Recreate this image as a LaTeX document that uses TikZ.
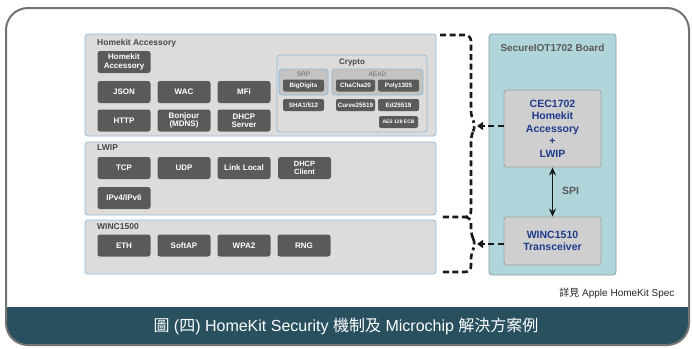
\documentclass[tikz,border=0pt]{standalone}
\usepackage{fontspec}
\setmainfont{Liberation Sans}
\newfontfamily\cjk{Noto Sans CJK TC}
\usetikzlibrary{arrows.meta}
\definecolor{pnl}{HTML}{DEDCDB}
\definecolor{pnledge}{HTML}{8DBCDD}
\definecolor{chp}{HTML}{5A5B58}
\definecolor{subp}{HTML}{C4C3C1}
\definecolor{titl}{HTML}{474747}
\definecolor{brd}{HTML}{B0D5DA}
\definecolor{brdedge}{HTML}{8E9FA2}
\definecolor{prt}{HTML}{CFCFCF}
\definecolor{prtedge}{HTML}{A3A3A3}
\definecolor{bluex}{HTML}{1E3A8C}
\definecolor{band}{HTML}{28505F}
\colorlet{framex}{black!55}
\tikzset{
    panel/.style={draw=pnledge,fill=pnl,rounded corners=3pt,line width=0.8pt,inner sep=0pt},
    ptitle/.style={anchor=west,text=titl,inner sep=0pt,font=\fontsize{8.5}{10}\selectfont\bfseries},
    chip/.style={fill=chp,text=white,rounded corners=2.5pt,minimum width=53pt,minimum height=22pt,
        inner sep=0pt,align=center,font=\fontsize{8}{8.5}\selectfont\bfseries},
    minichip/.style={chip,minimum width=41pt,minimum height=12pt,rounded corners=2pt,
        font=\fontsize{6.3}{7}\selectfont\bfseries},
    subpanel/.style={panel,fill=subp,minimum height=26pt},
    sublabel/.style={text=black!60,inner sep=0pt,font=\fontsize{6.5}{7}\selectfont},
    part/.style={draw=prtedge,fill=prt,rounded corners=3pt,line width=0.8pt,minimum width=97pt,
        inner sep=0pt,align=center,text=bluex,font=\fontsize{10.5}{12.5}\selectfont\bfseries},
    brace/.style={draw=black!90,line width=2.6pt,dash pattern=on 6pt off 3.5pt,rounded corners=6pt},
    dlink/.style={black!90,line width=2.6pt,dash pattern=on 6pt off 3.5pt,-{Triangle[length=6pt,width=8pt]}},
    spi/.style={black!90,line width=1.3pt,{Stealth[length=8pt,width=7pt]}-{Stealth[length=8pt,width=7pt]}}
}
\begin{document}
\begin{tikzpicture}[x=1pt,y=-1pt]
    \useasboundingbox (0,0) rectangle (692,348);
    % outer frame and caption band
    \fill[white,rounded corners=22pt] (6,8) rectangle (689,345);
    \fill[band] (6,307) -- (689,307) [rounded corners=20pt] -- (689,345) -- (6,345) [sharp corners] -- cycle;
    \draw[framex,line width=2pt,rounded corners=22pt] (6,8) rectangle (689,345);

    % Homekit Accessory
    \node[panel,minimum width=351pt,minimum height=102pt] (hka) at (260.5,85) {};
    \node[ptitle] (hkat) at (97,43) {Homekit Accessory};
    \node[chip] (kacc) at (124,62) {Homekit\\Accessory};
    \node[chip] (json) at (124,92) {JSON};
    \node[chip] (wac) at (184,92) {WAC};
    \node[chip] (mfi) at (244,92) {MFi};
    \node[chip] (http) at (124,120.5) {HTTP};
    \node[chip] (bonj) at (184,120.5) {Bonjour\\(MDNS)};
    \node[chip] (dhcps) at (244,120.5) {DHCP\\Server};

    % Crypto
    \node[panel,minimum width=150pt,minimum height=77pt] (crypto) at (352,93.5) {};
    \node[ptitle,anchor=center,font=\fontsize{8}{9}\selectfont\bfseries] (cryptot) at (352,63) {Crypto};
    \node[subpanel,minimum width=49pt] (srp) at (303.5,82) {};
    \node[subpanel,minimum width=91pt] (aead) at (377.5,82) {};
    \node[sublabel] (srpt) at (303.5,74.5) {SRP};
    \node[sublabel] (aeadt) at (377.5,74.5) {AEAD};
    \node[minichip] (bigd) at (303.5,85.5) {BigDigits};
    \node[minichip,minimum width=39pt] (chacha) at (355.5,85.5) {ChaCha20};
    \node[minichip] (poly) at (398.5,85.5) {Poly1305};
    \node[minichip] (sha) at (303.5,105) {SHA1/512};
    \node[minichip,minimum width=39pt] (curve) at (355.5,105) {Curve25519};
    \node[minichip] (ed) at (398.5,105) {Ed25519};
    \node[minichip,minimum width=39pt,font=\fontsize{5}{6}\selectfont\bfseries] (aes) at (398.5,122) {AES 128 ECB};

    % LWIP
    \node[panel,minimum width=351pt,minimum height=73pt] (lwip) at (260.5,178.5) {};
    \node[ptitle] (lwipt) at (97,148) {LWIP};
    \node[chip] (tcp) at (124,168) {TCP};
    \node[chip] (udp) at (184,168) {UDP};
    \node[chip] (llocal) at (244,168) {Link Local};
    \node[chip,font=\fontsize{7.5}{8}\selectfont\bfseries] (dhcpc) at (304.5,168) {DHCP\\Client};
    \node[chip] (ipv) at (124,198) {IPv4/IPv6};

    % WINC1500
    \node[panel,minimum width=351pt,minimum height=54pt] (winc) at (260.5,247) {};
    \node[ptitle] (winct) at (97,227) {WINC1500};
    \node[chip] (eth) at (124,245.5) {ETH};
    \node[chip] (softap) at (184,245.5) {SoftAP};
    \node[chip] (wpa) at (244,245.5) {WPA2};
    \node[chip] (rng) at (304,245.5) {RNG};

    % board
    \node[draw=brdedge,fill=brd,rounded corners=3pt,line width=0.8pt,minimum width=127pt,minimum height=241pt] (board) at (552.5,154.5) {};
    \node[text=black!65,font=\fontsize{10}{12}\selectfont\bfseries] (boardt) at (552.5,48) {SecureIOT1702 Board};
    \node[part,minimum height=77pt] (cec) at (552.5,128.5) {CEC1702\\Homekit\\Accessory\\+\\LWIP};
    \node[part,minimum height=48pt] (wtr) at (552.5,241) {WINC1510\\Transceiver};
    \draw[spi] (cec.south) -- (wtr.north);
    \node[text=black!65,font=\fontsize{10.5}{12}\selectfont\bfseries] (spit) at (570.5,191) {SPI};

    % braces
    \coordinate (tipa) at (476,126);
    \coordinate (tipb) at (476,244);
    \draw[brace] (440,35) -- (471,35) -- (471,117) -- (tipa) -- (471,135) -- (471,217) -- (440,217);
    \draw[brace] (465,217) -- (471,217) -- (471,235) -- (tipb) -- (471,253) -- (471,272) -- (440,272);
    \draw[dlink] (tipa -| cec.west) -- ([xshift=1pt]tipa);
    \draw[dlink] (tipb -| wtr.west) -- ([xshift=1pt]tipb);

    % source and caption
    \node[anchor=east,text=black!85,font=\fontsize{10}{11}\selectfont] (src) at (678,293) {{\cjk 詳見} Apple HomeKit Spec};
    \node[text=white,font=\fontsize{16}{18}\selectfont] (cap) at (346,326.5) {{\cjk 圖} ({\cjk 四}) HomeKit Security {\cjk 機制及} Microchip {\cjk 解決方案例}};
\end{tikzpicture}
\end{document}
